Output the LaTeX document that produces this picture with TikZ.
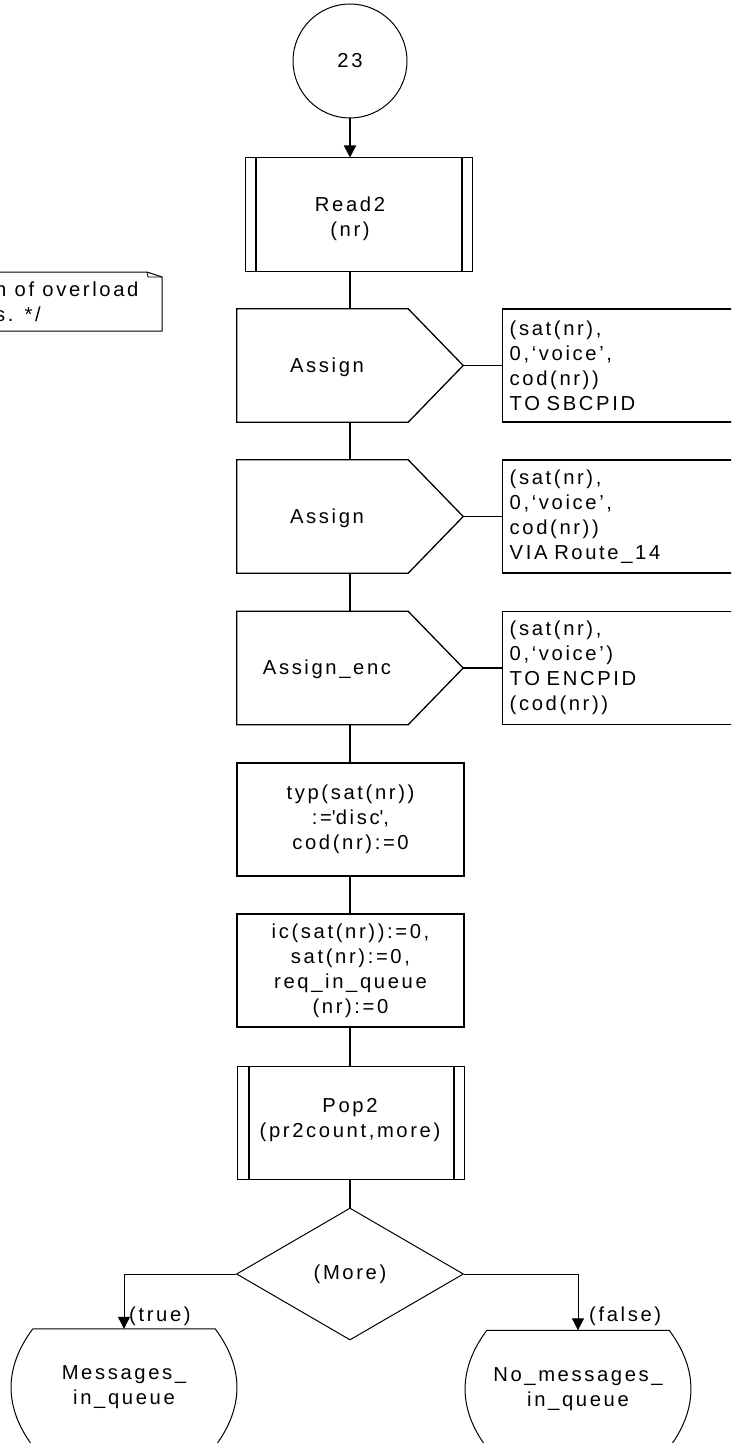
\documentclass[tikz,border=0pt]{standalone}
\usepackage{fontspec}
\setmainfont{Liberation Sans}[LetterSpace=13]
\usetikzlibrary{shapes.geometric,arrows.meta,calc}
\begin{document}
\begin{tikzpicture}[x=1bp,y=-1bp,
  every node/.style={font=\fontsize{20.3}{25}\selectfont, inner sep=0pt, align=center},
  procbox/.style={draw, line width=1.3bp, minimum width=227bp, minimum height=113bp},
  subbox/.style={draw, line width=1bp, minimum width=227bp, minimum height=113bp},
  frame/.style={draw=none, minimum width=226bp, minimum height=113bp},
  outbox/.style={draw, line width=1.3bp, anchor=west, align=left, text width=254bp, inner xsep=7bp, minimum height=113bp},
  shapeline/.style={line width=1.3bp, line join=miter},
  thickbar/.style={line width=2bp},
  conn/.style={line width=1.8bp},
  branch/.style={line width=1bp},
  tip/.style={-{Triangle[length=12bp,width=12bp]}}
]
\useasboundingbox (0,0) rectangle (731,1443);
\clip (0,0) rectangle (731,1443);

% comment
\draw[line width=1bp] (-10,272) -- (147,272) -- (162,277) -- (162,331) -- (-10,331);
\draw[line width=0.8bp] (147,272) -- (148,277) -- (162,277);
\node[anchor=west, align=left] (cmt) at (-5,302) {n of overload\\s. */};

% start
\node[draw, circle, minimum size=114bp, line width=1bp] (c23) at (350,61) {23};

% Read2
\node[subbox] (r2) at (358.5,214.5) {};
\draw[thickbar] ($(r2.north west)+(11,0)$) -- ($(r2.south west)+(11,0)$);
\draw[thickbar] ($(r2.north east)+(-11,0)$) -- ($(r2.south east)+(-11,0)$);
\node (r2t) at (350,219) {Read2\\(nr)};

% Assign 1
\node[frame] (a1) at (350,365.5) {};
\draw[shapeline] (a1.north west) -- ($(a1.north east)+(-55,0)$) -- (a1.east) -- ($(a1.south east)+(-55,0)$) -- (a1.south west) -- cycle;
\node (a1t) at (327,367) {Assign};
\node[outbox] (o1) at (502,365.5) {(sat(nr),\\0,‘voice’,\\cod(nr))\\TO SBCPID};

% Assign 2
\node[frame] (a2) at (350,516.5) {};
\draw[shapeline] (a2.north west) -- ($(a2.north east)+(-55,0)$) -- (a2.east) -- ($(a2.south east)+(-55,0)$) -- (a2.south west) -- cycle;
\node (a2t) at (327,518) {Assign};
\node[outbox] (o2) at (502,516.5) {(sat(nr),\\0,‘voice’,\\cod(nr))\\VIA Route\_14};

% Assign_enc
\node[frame] (a3) at (350,668) {};
\draw[shapeline] (a3.north west) -- ($(a3.north east)+(-55,0)$) -- (a3.east) -- ($(a3.south east)+(-55,0)$) -- (a3.south west) -- cycle;
\node (a3t) at (327,669) {Assign\_enc};
\node[outbox] (o3) at (502,668) {(sat(nr),\\0,‘voice’)\\TO ENCPID\\(cod(nr))};

% tasks
\node[procbox] (t1) at (350.5,819.5) {typ(sat(nr))\\:=\textquotesingle disc\textquotesingle,\\cod(nr):=0};
\node[procbox] (t2) at (350.5,970.5) {ic(sat(nr)):=0,\\sat(nr):=0,\\req\_in\_queue\\(nr):=0};

% Pop2
\node[subbox] (p2) at (350.5,1122.5) {};
\draw[thickbar] ($(p2.north west)+(12,0)$) -- ($(p2.south west)+(12,0)$);
\draw[thickbar] ($(p2.north east)+(-11,0)$) -- ($(p2.south east)+(-11,0)$);
\node (p2t) at (350,1120) {Pop2\\(pr2count,more)};

% decision
\node[draw, diamond, minimum width=227bp, minimum height=132bp, line width=1bp] (dm) at (350,1274) {(More)};

% states
\node[draw=none, minimum width=182bp, minimum height=117bp] (s1) at (124,1387.5) {Messages\_\\in\_queue};
\draw[line width=1bp] (s1.north west) -- (s1.north east)
  .. controls ($(s1.north east)+(29,39)$) and ($(s1.south east)+(29,-39)$) .. (s1.south east)
  -- (s1.south west)
  .. controls ($(s1.south west)+(-29,-39)$) and ($(s1.north west)+(-29,39)$) .. (s1.north west);
\node[draw=none, minimum width=182bp, minimum height=117bp] (s2) at (578,1389) {No\_messages\_\\in\_queue};
\draw[line width=1bp] (s2.north west) -- (s2.north east)
  .. controls ($(s2.north east)+(29,39)$) and ($(s2.south east)+(29,-39)$) .. (s2.south east)
  -- (s2.south west)
  .. controls ($(s2.south west)+(-29,-39)$) and ($(s2.north west)+(-29,39)$) .. (s2.north west);

% connectors
\draw[conn, tip] (c23.south) -- (c23.south |- r2.north);
\draw[conn] (r2t |- r2.south) -- (a1.north);
\draw[conn] (a1.south) -- (a2.north);
\draw[conn] (a2.south) -- (a3.north);
\draw[conn] (a3.south) -- (a3.south |- t1.north);
\draw[conn] (a3.south |- t1.south) -- (a3.south |- t2.north);
\draw[conn] (a3.south |- t2.south) -- (a3.south |- p2.north);
\draw[conn] (a3.south |- p2.south) -- (dm.north);
\draw[conn] (a1.east) -- (o1.west);
\draw[conn] (a2.east) -- (o2.west);
\draw[conn] (a3.east) -- (o3.west);
\draw[branch, tip] (dm.west) -| (s1.north);
\draw[branch, tip] (dm.east) -| (s2.north);
\node[anchor=west] (lt) at (129,1316) {(true)};
\node[anchor=west] (lf) at (589,1316) {(false)};
\end{tikzpicture}
\end{document}
